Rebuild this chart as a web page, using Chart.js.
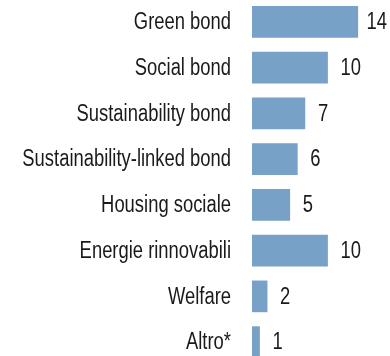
<!DOCTYPE html>
<html>
<head>
<meta charset="utf-8">
<script src="https://cdn.jsdelivr.net/npm/chart.js@4/dist/chart.umd.min.js"></script>
<style>
  html, body { margin: 0; padding: 0; background: #fff; overflow: hidden; }
  canvas { display: block; margin-top: -1px; }
</style>
</head>
<body>
<canvas id="grafico" width="390" height="366"></canvas>
<script>
const categorie = ['Green bond', 'Social bond', 'Sustainability bond', 'Sustainability-linked bond',
    'Housing sociale', 'Energie rinnovabili', 'Welfare', 'Altro*']
const valori = [14, 10, 7, 6, 5, 10, 2, 1]

const fontTesto = "23px 'Liberation Sans', Arial, sans-serif"
const strettezza = 0.8  // carattere "narrow" simulato
const coloreTesto = '#1a1a1a'

// testo stretto orizzontalmente, ancorato nel punto (x, y)
function scriviStretto(ctx, testo, x, y, align) {
    ctx.save()
    ctx.translate(x, y)
    ctx.scale(strettezza, 1)
    ctx.textAlign = align
    ctx.fillText(testo, 0, 0)
    ctx.restore()
}

// etichette delle categorie e dei valori
const etichette = {
    id: 'etichette',
    afterDatasetsDraw(chart) {
        const ctx = chart.ctx
        const scalaY = chart.scales.y
        const meta = chart.getDatasetMeta(0)
        ctx.save()
        ctx.font = fontTesto
        ctx.fillStyle = coloreTesto
        ctx.textBaseline = 'middle'
        categorie.forEach((cat, i) => {
            scriviStretto(ctx, cat, chart.chartArea.left - 21, scalaY.getPixelForTick(i) + 1, 'right')
        })
        meta.data.forEach((bar, i) => {
            const larghezza = ctx.measureText(String(valori[i])).width * strettezza
            const x = Math.min(bar.x + 13, chart.width - larghezza - 3)
            scriviStretto(ctx, String(valori[i]), x, bar.y + 1, 'left')
        })
        ctx.restore()
    }
}

new Chart(document.getElementById('grafico'), {
    type: 'bar',
    data: {
        labels: categorie,
        datasets: [{
            data: valori,
            backgroundColor: '#77a1c6',
            borderWidth: 0,
            barThickness: 31
        }]
    },
    options: {
        indexAxis: 'y',
        responsive: false,
        animation: false,
        layout: { padding: { left: 0, right: 2, top: 0, bottom: 0 } },
        plugins: {
            legend: { display: false },
            tooltip: { enabled: false }
        },
        scales: {
            x: {
                display: false,
                min: 0,
                max: 18
            },
            y: {
                grid: { display: false, drawTicks: false },
                border: { display: false },
                ticks: { display: false },
                afterFit: function (scale) {
                    scale.width = 252
                    scale.paddingTop = 0
                    scale.paddingBottom = 0
                }
            }
        }
    },
    plugins: [etichette]
})
</script>
</body>
</html>
